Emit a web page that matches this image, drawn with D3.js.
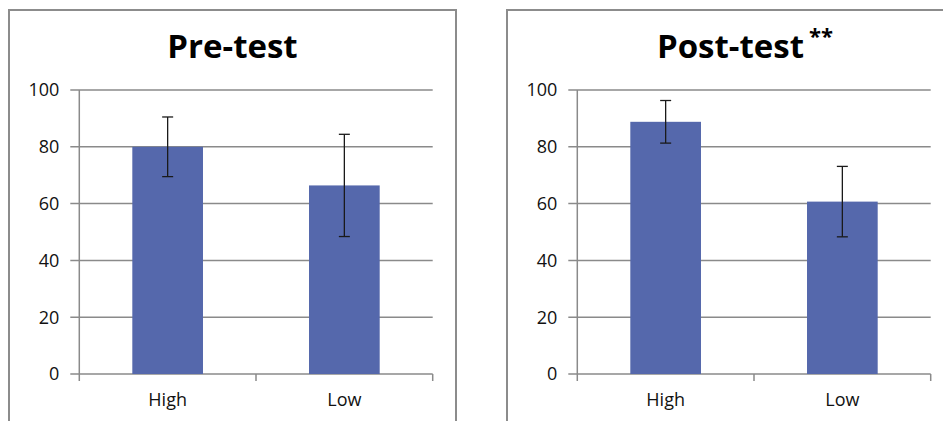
<!DOCTYPE html>
<html><head><meta charset="utf-8">
<script src="https://cdn.jsdelivr.net/npm/d3@7"></script>
<style>html,body{margin:0;padding:0;background:#fff;overflow:hidden}</style>
</head><body>
<svg id="c" width="943" height="421"></svg>
<script>
const categories = ["High", "Low"];
const preMeans = [80, 66.4];
const preErrors = [10.5, 18];
const postMeans = [88.8, 60.7];
const postErrors = [7.5, 12.4];
const yTicks = [0, 20, 40, 60, 80, 100];
const titles = ["Pre-test", "Post-test"];
const titleMarks = ["", "**"];

(function () {
const svg = d3.select("#c");
const panels = [
  {x0: 9, means: preMeans, errs: preErrors, title: titles[0], mark: titleMarks[0]},
  {x0: 507, means: postMeans, errs: postErrors, title: titles[1], mark: titleMarks[1]}
];
const panelW = 447, plotL = 70.3, plotW = 353.4, plotTop = 90, plotBottom = 374;
const grid = "#8a8a8a";
const barColor = "#5568ac";
const font = "'Open Sans', Lato, sans-serif";

panels.forEach(p => {
  const g = svg.append("g").attr("transform", `translate(${p.x0},0)`);
  g.append("rect").attr("x", 0).attr("y", 10).attr("width", panelW).attr("height", 430)
    .attr("fill", "#fff").attr("stroke", "#8c8c8c").attr("stroke-width", 2);

  const y = d3.scaleLinear().domain([0, 100]).range([plotBottom, plotTop]);
  const x = d3.scaleBand().domain(categories).range([plotL, plotL + plotW]).padding(0);
  const bw = x.bandwidth() * 0.4;

  g.append("g").selectAll("line").data(yTicks).join("line")
    .attr("x1", plotL - 9).attr("x2", plotL + plotW)
    .attr("y1", d => y(d)).attr("y2", d => y(d))
    .attr("stroke", grid).attr("stroke-width", 1.5);
  g.append("line").attr("x1", plotL).attr("x2", plotL).attr("y1", plotTop).attr("y2", plotBottom + 7)
    .attr("stroke", grid).attr("stroke-width", 1.5);
  const edges = categories.map(c => x(c)).concat([plotL + plotW]);
  g.append("g").selectAll("line").data(edges.slice(1)).join("line")
    .attr("x1", d => d).attr("x2", d => d).attr("y1", plotBottom).attr("y2", plotBottom + 7)
    .attr("stroke", grid).attr("stroke-width", 1.5);

  g.append("g").selectAll("text").data(yTicks).join("text")
    .attr("x", plotL - 20).attr("y", d => y(d)).attr("dy", "0.36em")
    .attr("text-anchor", "end").attr("font-family", font).attr("font-size", 18)
    .attr("fill", "#111").text(d => d);

  g.append("g").selectAll("rect").data(categories).join("rect")
    .attr("x", c => x(c) + (x.bandwidth() - bw) / 2).attr("width", bw)
    .attr("y", (c, i) => y(p.means[i])).attr("height", (c, i) => plotBottom - y(p.means[i]))
    .attr("fill", barColor);

  const eg = g.append("g").attr("stroke", "#1a1a1a").attr("stroke-width", 1.3);
  categories.forEach((c, i) => {
    const cx = x(c) + x.bandwidth() / 2;
    const hi = y(p.means[i] + p.errs[i]), lo = y(p.means[i] - p.errs[i]);
    eg.append("line").attr("x1", cx).attr("x2", cx).attr("y1", hi).attr("y2", lo);
    eg.append("line").attr("x1", cx - 5.5).attr("x2", cx + 5.5).attr("y1", hi).attr("y2", hi);
    eg.append("line").attr("x1", cx - 5.5).attr("x2", cx + 5.5).attr("y1", lo).attr("y2", lo);
  });

  g.append("g").selectAll("text").data(categories).join("text")
    .attr("x", c => x(c) + x.bandwidth() / 2).attr("y", 406)
    .attr("text-anchor", "middle").attr("font-family", font).attr("font-size", 18)
    .attr("fill", "#111").text(c => c);

  const t = g.append("text").attr("x", panelW / 2).attr("y", 58)
    .attr("text-anchor", "middle").attr("font-family", font).attr("font-weight", "bold")
    .attr("font-size", 33).attr("fill", "#000").text(p.title);
  if (p.mark) {
    const bb = t.node().getBBox();
    g.append("text").attr("x", bb.x + bb.width + 5).attr("y", 44)
      .attr("font-family", font).attr("font-weight", "bold").attr("font-size", 22)
      .attr("fill", "#000").text(p.mark);
  }
});
})();
</script>
</body></html>
